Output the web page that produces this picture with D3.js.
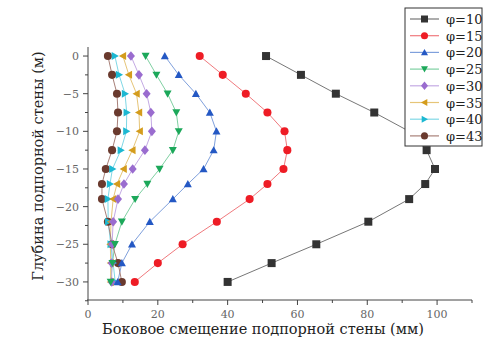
<!DOCTYPE html>
<html>
<head>
<meta charset="utf-8">
<script src="https://cdn.jsdelivr.net/npm/d3@7"></script>
<style>
  body { margin: 0; background: #fff; }
  svg text { font-family: "DejaVu Serif", "Liberation Serif", serif; }
</style>
</head>
<body>
<svg id="chart" width="483" height="347"></svg>
<script>
// depth levels (m)
var depth = [0, -2.5, -5, -7.5, -10, -12.5, -15, -17, -19, -22, -25, -27.5, -30];

var phi10 = [51, 61, 71, 82, 92, 97, 99.4, 96.6, 92, 80.3, 65.4, 52.6, 40];
var phi15 = [32, 38.6, 45.2, 51.4, 56.3, 57.1, 56, 51.4, 46.3, 36.9, 27.1, 20, 13.4];
var phi20 = [22, 26, 30.9, 34.9, 36.8, 36, 33.1, 28.6, 24.3, 17.7, 12.6, 9.7, 8.5];
var phi25 = [16.5, 19.6, 22.8, 25.3, 26, 24.3, 20.5, 17, 13.5, 9.7, 7.7, 7, 6.5];
var phi30 = [12.3, 14.6, 16.8, 18, 18.3, 16.3, 12.8, 10.3, 8.6, 7.2, 6.9, 6.8, 6.8];
var phi35 = [10, 11.7, 13.9, 14.6, 14.8, 12.7, 10.2, 8.3, 7.2, 6.6, 6.4, 6.5, 6.5];
var phi40 = [7.7, 8.9, 10.6, 11.1, 11.0, 9.4, 7.0, 6.3, 5.7, 5.8, 6.5, 7.2, 7.8];
var phi43 = [5.7, 6.9, 8.3, 8.6, 8.3, 6.9, 5.1, 4.0, 4.0, 5.7, 6.9, 8.6, 9.7];

var names = ["φ=10", "φ=15", "φ=20", "φ=25", "φ=30", "φ=35", "φ=40", "φ=43"];
var xTicks = [0, 20, 40, 60, 80, 100];
var yTicks = [0, -5, -10, -15, -20, -25, -30];

var series = [
    {name: names[0], values: phi10, color: "#333333", line: "#777777", shape: "square"},
    {name: names[1], values: phi15, color: "#ee1c25", line: "#f07a7e", shape: "circle"},
    {name: names[2], values: phi20, color: "#2458c4", line: "#7fa0dc", shape: "up"},
    {name: names[3], values: phi25, color: "#1ca85a", line: "#7fd0a2", shape: "down"},
    {name: names[4], values: phi30, color: "#9a6ccf", line: "#c4aae4", shape: "diamond"},
    {name: names[5], values: phi35, color: "#d49c1c", line: "#e6c578", shape: "left"},
    {name: names[6], values: phi40, color: "#1cb8d2", line: "#80d8e6", shape: "right"},
    {name: names[7], values: phi43, color: "#6a3a2e", line: "#a88078", shape: "circle"}
];

var svg = d3.select("#chart");
var pL = 88, pR = 472, pT = 47, pB = 300;

var x = d3.scaleLinear().domain([0, 110]).range([pL, pR]);
var y = d3.scaleLinear().domain([-32.4, 1.2]).range([pB, pT]);

// marker path
function marker(shape, s) {
    var h = s / 2;
    if (shape == "square") return "M" + (-h) + "," + (-h) + "h" + s + "v" + s + "h" + (-s) + "Z";
    if (shape == "circle") return d3.symbol(d3.symbolCircle, s * s * 0.8)();
    if (shape == "diamond") return "M0," + (-h * 1.2) + "L" + h + ",0L0," + (h * 1.2) + "L" + (-h) + ",0Z";
    return "M0," + (-h) + "L" + h + "," + (h * 0.8) + "L" + (-h) + "," + (h * 0.8) + "Z";
}
function rot(shape) {
    if (shape == "down") return 180;
    if (shape == "left") return -90;
    if (shape == "right") return 90;
    return 0;
}

// axes
var xAxis = svg.append("g").attr("transform", "translate(0," + pB + ")");
xAxis.append("line").attr("x1", pL - 1).attr("x2", pR).attr("stroke", "#444");
xAxis.selectAll(".minor").data(d3.range(10, 111, 20)).enter().append("line")
        .attr("x1", function (d) { return x(d); }).attr("x2", function (d) { return x(d); })
        .attr("y1", 0).attr("y2", 3).attr("stroke", "#444");
xAxis.selectAll(".major").data(xTicks).enter().append("line")
        .attr("x1", function (d) { return x(d); }).attr("x2", function (d) { return x(d); })
        .attr("y1", 0).attr("y2", 5).attr("stroke", "#444");
xAxis.selectAll("text").data(xTicks).enter().append("text")
        .attr("x", function (d) { return x(d); }).attr("y", 18)
        .attr("text-anchor", "middle").attr("font-size", 11).attr("fill", "#666")
        .text(function (d) { return d; });

var yAxis = svg.append("g").attr("transform", "translate(" + pL + ",0)");
yAxis.append("line").attr("y1", pT).attr("y2", pB).attr("stroke", "#444");
yAxis.selectAll(".minor").data(d3.range(-2.5, -33, -5)).enter().append("line")
        .attr("y1", function (d) { return y(d); }).attr("y2", function (d) { return y(d); })
        .attr("x1", 0).attr("x2", -3).attr("stroke", "#444");
yAxis.selectAll(".major").data(yTicks).enter().append("line")
        .attr("y1", function (d) { return y(d); }).attr("y2", function (d) { return y(d); })
        .attr("x1", 0).attr("x2", -5).attr("stroke", "#444");
yAxis.selectAll("text").data(yTicks).enter().append("text")
        .attr("x", -9).attr("y", function (d) { return y(d) + 4; })
        .attr("text-anchor", "end").attr("font-size", 11).attr("fill", "#666")
        .text(function (d) { return d == 0 ? "0" : "\u2212" + Math.abs(d); });

svg.append("text").attr("x", 263).attr("y", 334).attr("text-anchor", "middle")
        .attr("font-size", 14.5).attr("fill", "#222")
        .text("Боковое смещение подпорной стены (мм)");
svg.append("text").attr("transform", "translate(43,166) rotate(-90)").attr("text-anchor", "middle")
        .attr("font-size", 14.5).attr("fill", "#222")
        .text("Глубина подпорной стены (м)");

// lines and markers
var line = d3.line()
        .x(function (d) { return x(d[0]); })
        .y(function (d) { return y(d[1]); });

var plot = svg.append("g");
series.forEach(function (s) {
    var pts = s.values.map(function (v, i) { return [v, depth[i]]; });
    plot.append("path").attr("d", line(pts)).attr("fill", "none")
            .attr("stroke", s.line).attr("stroke-width", 1);
});
series.slice().reverse().forEach(function (s) {
    var pts = s.values.map(function (v, i) { return [v, depth[i]]; });
    plot.selectAll(null).data(pts).enter().append("path")
            .attr("d", marker(s.shape, 8))
            .attr("transform", function (d) {
                return "translate(" + x(d[0]) + "," + y(d[1]) + ") rotate(" + rot(s.shape) + ")";
            })
            .attr("fill", s.color);
});

// legend
var lg = svg.append("g").attr("transform", "translate(405,8)");
lg.append("rect").attr("width", 77).attr("height", 138).attr("fill", "#fff")
        .attr("stroke", "#333").attr("stroke-width", 1);
var row = lg.selectAll(".row").data(series).enter().append("g")
        .attr("transform", function (d, i) { return "translate(0," + (11 + i * 16.7) + ")"; });
row.append("line").attr("x1", 5).attr("x2", 34).attr("stroke", function (d) { return d.line; })
        .attr("stroke-width", 1.2);
row.append("path").attr("d", function (d) { return marker(d.shape, 7); })
        .attr("transform", function (d) { return "translate(19.5,0) rotate(" + rot(d.shape) + ")"; })
        .attr("fill", function (d) { return d.color; });
row.append("text").attr("x", 41).attr("y", 5).attr("font-size", 13).attr("fill", "#222")
        .text(function (d) { return d.name; });
</script>
</body>
</html>
